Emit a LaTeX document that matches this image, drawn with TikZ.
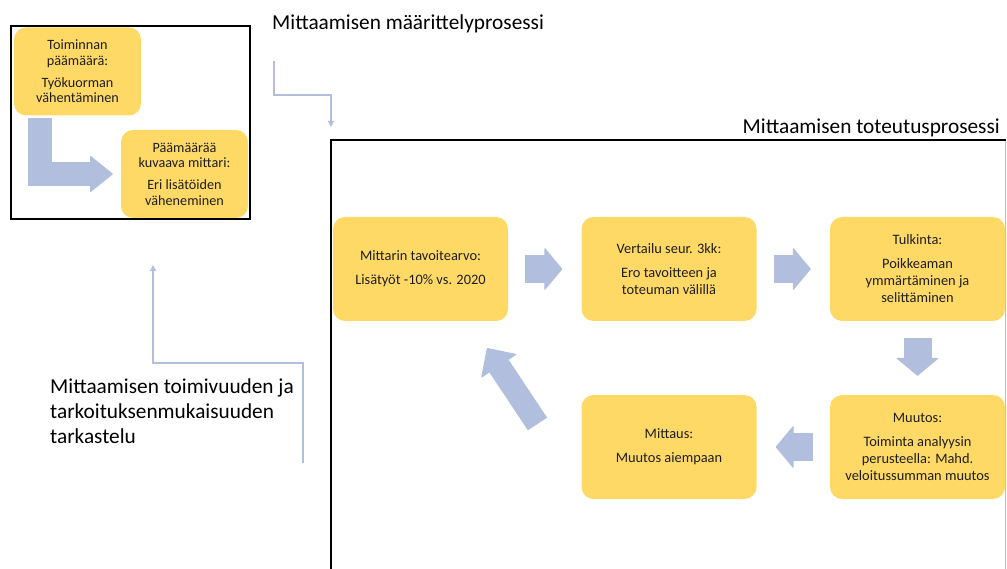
\documentclass[tikz,border=0pt]{standalone}
\usepackage{fontspec}
\setmainfont{Carlito}
\usetikzlibrary{positioning, arrows.meta, calc}
\definecolor{stepyellow}{RGB}{255,217,102}
\definecolor{flowblue}{RGB}{178,190,222}
\definecolor{textdark}{RGB}{30,30,30}

\tikzset{
  stepbox/.style={fill=stepyellow, rounded corners=12pt, align=center, text=textdark,
    font=\fontsize{14.4}{17}\selectfont, minimum width=175pt, minimum height=104pt, inner sep=0pt},
  goalbox/.style={stepbox, font=\fontsize{14.2}{15.6}\selectfont,
    minimum width=127pt, minimum height=88pt},
  blockarrow/.style={draw=flowblue, line width=28pt,
    -{Triangle[width=43pt, length=18pt, line width=1pt, round]}, shorten <=17pt, shorten >=19pt},
  thinarrow/.style={draw=flowblue, line width=2pt, -{Triangle[width=6pt, length=6pt]}},
  heading/.style={font=\fontsize{21.3}{25}\selectfont, text=black, inner sep=0pt, align=left}
}

\begin{document}
\begin{tikzpicture}[x=1pt, y=-1pt]
    \useasboundingbox (0,0) rectangle (1007,569);

    % definition part
    \draw[line width=2.5pt] (11,26) rectangle (250,219);
    \node[goalbox] (goal) at (77.5,71.5)
        {Toiminnan\\päämäärä:\\[6pt]Työkuorman\\vähentäminen};
    \node[goalbox] (meter) at (184.5,174)
        {Päämäärää\\kuvaava mittari:\\[6pt]Eri lisätöiden\\väheneminen};
    \draw[blockarrow, line width=24pt, shorten <=0pt, shorten >=8pt,
        -{Triangle[width=37pt, length=23pt, line width=1pt, round]}]
        ($(goal.south west)+(26,2)$) |- (meter.west);

    \node[heading, anchor=base west] (defhead) at (272,30) {Mittaamisen määrittelyprosessi};
    \coordinate (deftop) at (274,61);
    \coordinate (defbend) at (302,95);
    \coordinate (defend) at (331,127);
    \draw[thinarrow] (deftop) |- (defbend) -| (defend);

    % execution part
    \draw[line width=2.5pt] (331,575) -- (331,140) -- (1006,140);
    \draw[black!25, line width=1pt] (1005.5,141) -- (1005.5,569);
    \node[heading, anchor=base east] (exehead) at (1000,134) {Mittaamisen toteutusprosessi};

    \node[stepbox] (target) at (420.5,269)
        {Mittarin tavoitearvo:\\[7pt]Lisätyöt -10\% vs. 2020};
    \node[stepbox] (compare) at (669,269)
        {Vertailu seur. 3kk:\\[7pt]Ero tavoitteen ja\\toteuman välillä};
    \node[stepbox] (interpret) at (917.5,269)
        {Tulkinta:\\[7pt]Poikkeaman\\ymmärtäminen ja\\selittäminen};
    \node[stepbox] (change) at (917.5,447)
        {Muutos:\\[7pt]Toiminta analyysin\\perusteella: Mahd.\\veloitussumman muutos};
    \node[stepbox] (measure) at (669,447)
        {Mittaus:\\[7pt]Muutos aiempaan};

    \draw[blockarrow] (target.east) -- (compare.west);
    \draw[blockarrow] (compare.east) -- (interpret.west);
    \draw[blockarrow] (interpret.south) -- (change.north);
    \draw[blockarrow] (change.west) -- (measure.east);
    \coordinate (loopstart) at (537.5,424);
    \coordinate (loopend) at (487,348);
    \draw[blockarrow, line width=23pt, shorten <=0pt, shorten >=0pt,
        -{Triangle[width=43pt, length=22pt, line width=1pt, round]}] (loopstart) -- (loopend);

    % review of the measuring
    \node[heading, anchor=base west] (review) at (50,443)
        {Mittaamisen toimivuuden ja\\tarkoituksenmukaisuuden\\tarkastelu};
    \coordinate (revstart) at (303,463);
    \coordinate (revbend) at (228,363);
    \coordinate (revend) at (153,265);
    \draw[thinarrow] (revstart) |- (revbend) -| (revend);
\end{tikzpicture}
\end{document}
